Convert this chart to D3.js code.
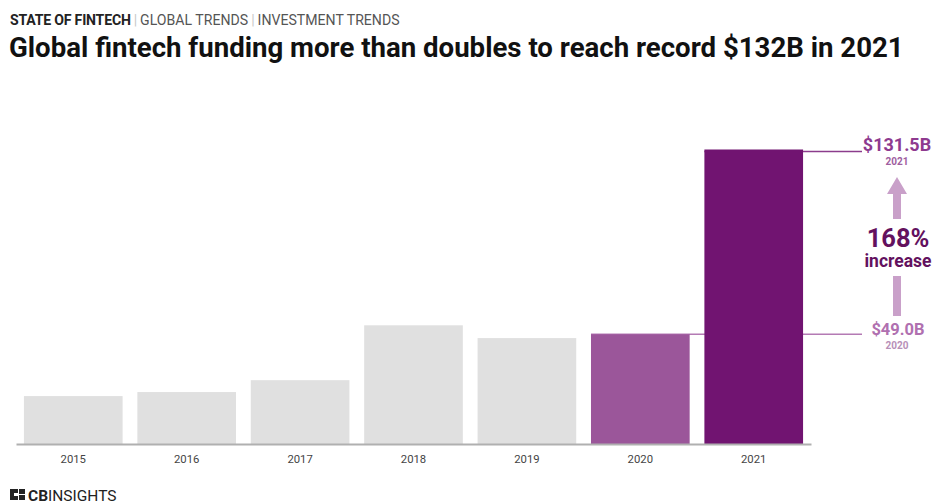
<!DOCTYPE html>
<html>
<head>
<meta charset="utf-8">
<style>
  body { margin: 0; background: #fff; }
  svg text { font-family: Roboto, "Noto Sans", sans-serif; }
</style>
</head>
<body>
<script src="https://cdn.jsdelivr.net/npm/d3@7"></script>
<script>
  var years = ["2015", "2016", "2017", "2018", "2019", "2020", "2021"];
  var funding = [21.4, 23.2, 28.5, 53.0, 47.3, 49.0, 131.5];
  var barColors = ["#e0e0e0", "#e0e0e0", "#e0e0e0", "#e0e0e0", "#e0e0e0", "#9b569a", "#711471"];
  var increaseLabel = "168%";

  var width = 935, height = 503;
  var baseY = 444;

  var svg = d3.select("body").append("svg")
      .attr("width", width)
      .attr("height", height);

  var x = d3.scaleBand()
      .domain(years)
      .range([16, 811])
      .paddingInner(0.13)
      .paddingOuter(0.07);

  var y = d3.scaleLinear()
      .domain([0, 131.5])
      .range([baseY, 149.5]);

  // header
  var head = svg.append("text").attr("x", 10).attr("y", 25).attr("font-size", 14.1);
  head.append("tspan").attr("font-weight", 700).attr("fill", "#222").attr("letter-spacing", -0.2).text("STATE OF FINTECH");
  head.append("tspan").attr("fill", "#c8c8c8").attr("dx", 3).text("|");
  head.append("tspan").attr("fill", "#555").attr("dx", 3).text("GLOBAL TRENDS");
  head.append("tspan").attr("fill", "#c8c8c8").attr("dx", 3).text("|");
  head.append("tspan").attr("fill", "#555").attr("dx", 3).text("INVESTMENT TRENDS");

  svg.append("text")
      .attr("x", 9).attr("y", 57)
      .attr("font-size", 27.6)
      .attr("font-weight", 700)
      .attr("fill", "#111")
      .text("Global fintech funding more than doubles to reach record $132B in 2021");

  // connector lines (behind bars)
  var i20 = years.indexOf("2020"), i21 = years.indexOf("2021");
  var lineEnd = 862;
  svg.append("line")
      .attr("x1", x("2020")).attr("x2", lineEnd)
      .attr("y1", y(funding[i20])).attr("y2", y(funding[i20]))
      .attr("stroke", "#b47ab4").attr("stroke-width", 1.5);
  svg.append("line")
      .attr("x1", x("2021")).attr("x2", lineEnd)
      .attr("y1", y(funding[i21]) + 2).attr("y2", y(funding[i21]) + 2)
      .attr("stroke", "#8b3c8c").attr("stroke-width", 1.5);

  svg.append("g").selectAll("rect")
      .data(funding)
      .enter()
      .append("rect")
      .attr("x", function (d, i) { return x(years[i]); })
      .attr("y", function (d) { return y(d); })
      .attr("width", x.bandwidth())
      .attr("height", function (d) { return baseY - y(d); })
      .attr("fill", function (d, i) { return barColors[i]; });

  var xAxis = d3.axisBottom(x).tickSize(0).tickPadding(11);
  var axisNodes = svg.append("g")
      .attr("transform", "translate(0," + baseY + ")")
      .call(xAxis);
  axisNodes.select(".domain").attr("stroke", "#b0b0b0").attr("stroke-width", 2);
  axisNodes.selectAll(".tick text")
      .attr("font-size", 11.3)
      .attr("fill", "#444")
      .attr("font-family", "Roboto, sans-serif");

  // annotation on the right
  var ax = 897;
  svg.append("text")
      .attr("x", ax).attr("y", 151)
      .attr("text-anchor", "middle")
      .attr("font-size", 18).attr("font-weight", 700)
      .attr("fill", "#8e3a8f")
      .text("$" + funding[i21].toFixed(1) + "B");
  svg.append("text")
      .attr("x", ax).attr("y", 165)
      .attr("text-anchor", "middle")
      .attr("font-size", 10).attr("font-weight", 700)
      .attr("fill", "#a0609f")
      .text(years[i21]);

  svg.append("text")
      .attr("x", ax + 1).attr("y", 334.5)
      .attr("text-anchor", "middle")
      .attr("font-size", 16.5).attr("font-weight", 700)
      .attr("fill", "#b070b0")
      .text("$" + funding[i20].toFixed(1) + "B");
  svg.append("text")
      .attr("x", ax).attr("y", 349)
      .attr("text-anchor", "middle")
      .attr("font-size", 10).attr("font-weight", 700)
      .attr("fill", "#b890b8")
      .text(years[i20]);

  var arrowColor = "#c9a0c9";
  svg.append("path")
      .attr("d", "M" + ax + ",177 L" + (ax + 10) + ",194 L" + (ax + 4) + ",194 L" + (ax + 4) + ",219 L" + (ax - 4) + ",219 L" + (ax - 4) + ",194 L" + (ax - 10) + ",194 Z")
      .attr("fill", arrowColor);
  svg.append("rect")
      .attr("x", ax - 4).attr("y", 276)
      .attr("width", 8).attr("height", 40)
      .attr("fill", arrowColor);

  svg.append("text")
      .attr("x", ax + 1).attr("y", 247)
      .attr("text-anchor", "middle")
      .attr("font-size", 25.5).attr("font-weight", 700)
      .attr("fill", "#63115e")
      .text(increaseLabel);
  svg.append("text")
      .attr("x", ax + 1).attr("y", 267)
      .attr("text-anchor", "middle")
      .attr("font-size", 17.5).attr("font-weight", 700)
      .attr("fill", "#63115e")
      .text("increase");

  // logo
  var logo = svg.append("g").attr("transform", "translate(10,489)");
  logo.append("rect").attr("x", 0).attr("y", 0).attr("width", 8).attr("height", 11).attr("fill", "#222");
  logo.append("rect").attr("x", 9).attr("y", 0).attr("width", 6).attr("height", 5).attr("fill", "#222");
  logo.append("rect").attr("x", 9).attr("y", 6).attr("width", 6).attr("height", 5).attr("fill", "#222");
  logo.append("rect").attr("x", 4).attr("y", 4).attr("width", 4).attr("height", 3).attr("fill", "#fff");
  var lt = logo.append("text").attr("x", 18).attr("y", 11.5).attr("font-size", 15.5).attr("fill", "#222");
  lt.append("tspan").attr("font-weight", 700).text("CB");
  lt.append("tspan").attr("font-weight", 400).text("INSIGHTS");
</script>
</body>
</html>
